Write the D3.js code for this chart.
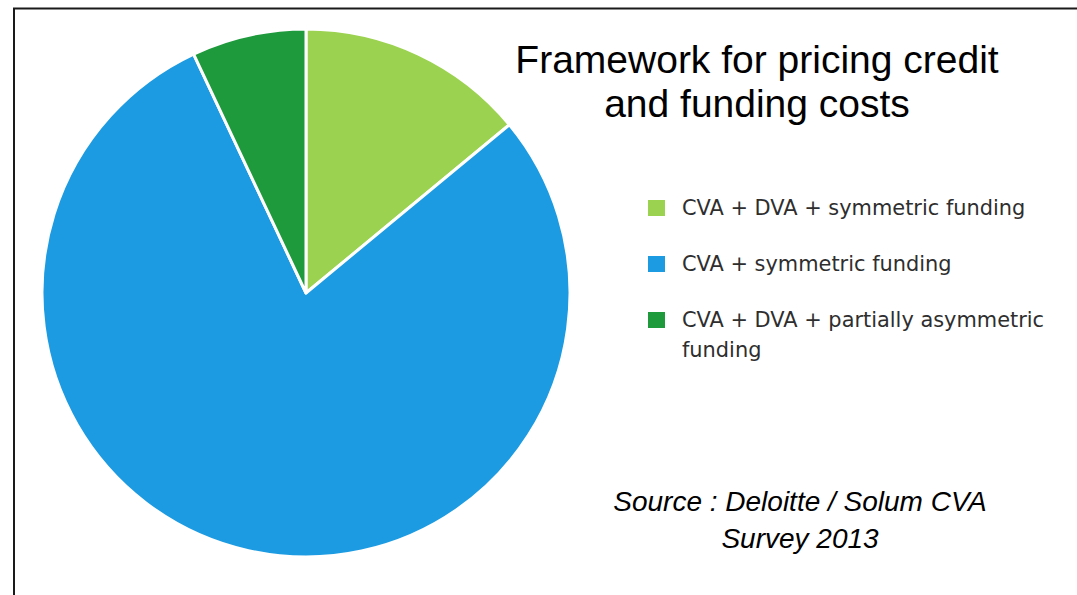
<!DOCTYPE html>
<html>
<head>
<meta charset="utf-8">
<script src="https://cdn.jsdelivr.net/npm/d3@7"></script>
<style>
  html, body { margin: 0; padding: 0; background: #fff; }
  svg { display: block; }
</style>
</head>
<body>
<svg id="chart" width="1077" height="595"></svg>
<script>
// Survey shares (%) by pricing framework
const categories = [
  "CVA + DVA + symmetric funding",
  "CVA + symmetric funding",
  "CVA + DVA + partially asymmetric funding"
];
const values = [14, 79, 7];
const legendLines = [
  ["CVA + DVA + symmetric funding"],
  ["CVA + symmetric funding"],
  ["CVA + DVA + partially asymmetric", "funding"]
];
const titleLines = ["Framework for pricing credit", "and funding costs"];
const sourceLines = ["Source : Deloitte / Solum CVA", "Survey 2013"];

const palette = ["#9bd24f", "#1c9be2", "#1e9a3d"];

const svg = d3.select("#chart");

// Frame (runs off the right and bottom edges)
svg.append("rect")
  .attr("x", 14).attr("y", 8.5)
  .attr("width", 1200).attr("height", 800)
  .attr("fill", "none")
  .attr("stroke", "#1a1a1a")
  .attr("stroke-width", 2);

// Pie
const cx = 306, cy = 293, radius = 264;
const color = d3.scaleOrdinal().domain(categories).range(palette);
const pie = d3.pie().sort(null).value(d => d.value).startAngle(0).endAngle(2 * Math.PI);
const arc = d3.arc().innerRadius(0).outerRadius(radius);
const data = categories.map((c, i) => ({ category: c, value: values[i] }));

svg.append("g")
  .attr("transform", `translate(${cx},${cy})`)
  .selectAll("path")
  .data(pie(data))
  .join("path")
  .attr("d", arc)
  .attr("fill", d => color(d.data.category))
  .attr("stroke", "#fff")
  .attr("stroke-width", 3)
  .attr("stroke-linejoin", "round");

// Title
svg.append("text")
  .attr("x", 757).attr("y", 73)
  .attr("text-anchor", "middle")
  .attr("font-family", "'Liberation Sans', Arial, sans-serif")
  .attr("font-size", 39)
  .attr("fill", "#000")
  .selectAll("tspan")
  .data(titleLines)
  .join("tspan")
  .attr("x", 757)
  .attr("dy", (d, i) => i === 0 ? 0 : 44)
  .text(d => d);

// Legend
const legend = svg.append("g");
const rowY = d3.scalePoint().domain(categories).range([215, 327]);
const items = legend.selectAll("g")
  .data(categories)
  .join("g")
  .attr("transform", d => `translate(0,${rowY(d)})`);

items.append("rect")
  .attr("x", 648).attr("y", -15)
  .attr("width", 17).attr("height", 16)
  .attr("fill", d => color(d));

items.append("text")
  .attr("font-family", "'DejaVu Sans', sans-serif")
  .attr("font-size", 20.9)
  .attr("fill", "#2e2e2e")
  .selectAll("tspan")
  .data((d, i) => legendLines[i])
  .join("tspan")
  .attr("x", 682)
  .attr("dy", (d, i) => i === 0 ? 0 : 30)
  .text(d => d);

// Source note
svg.append("text")
  .attr("x", 800).attr("y", 511)
  .attr("text-anchor", "middle")
  .attr("font-family", "'Liberation Sans', Arial, sans-serif")
  .attr("font-style", "italic")
  .attr("font-size", 28)
  .attr("fill", "#000")
  .selectAll("tspan")
  .data(sourceLines)
  .join("tspan")
  .attr("x", 800)
  .attr("dy", (d, i) => i === 0 ? 0 : 37)
  .text(d => d);
</script>
</body>
</html>
